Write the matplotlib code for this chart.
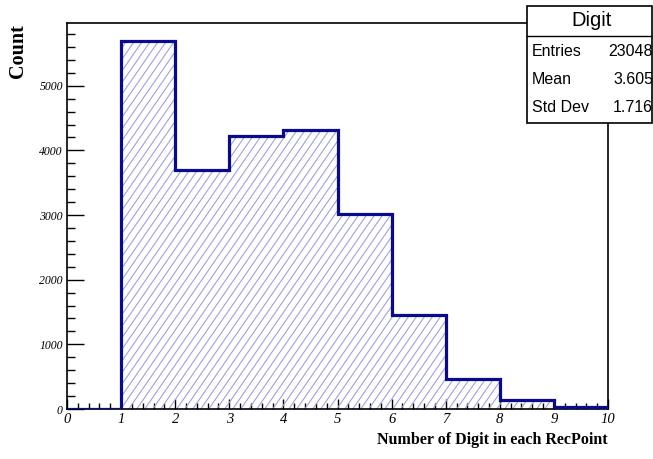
import matplotlib
matplotlib.use("Agg")
import matplotlib.pyplot as plt
import numpy as np
from matplotlib.ticker import MultipleLocator, AutoMinorLocator
from matplotlib.collections import LineCollection

# histogram of number of digits per RecPoint
edges = [0, 1, 2, 3, 4, 5, 6, 7, 8, 9, 10]
counts = [0, 5686, 3700, 4215, 4318, 3015, 1455, 468, 140, 32]
stats_labels = ["Entries", "Mean", "Std Dev"]
stats_values = ["23048", "3.605", "1.716"]

navy = '#0a0a8c'
hatch_col = '#a0a0e6'

fig = plt.figure(figsize=(6.53, 4.59), dpi=100)
ax_w, ax_h = 541, 386
ax = fig.add_axes([67/653, 50/459, ax_w/653, ax_h/459])
xmax, ymax = 10, 5970

fill = ax.stairs(counts, edges, fill=True, facecolor='none', edgecolor='none', linewidth=0)
ax.stairs(counts, edges, color=navy, linewidth=2.3, baseline=0, zorder=3)

# hatch lines, ~55 deg, 8 px apart, clipped to the filled histogram
sx, sy = ax_w / xmax, ax_h / ymax
slope = 1.45
segs = []
for c in np.arange(-ax_h / slope, ax_w, 8):
    segs.append([(c / sx, 0), ((c + ax_h / slope) / sx, ax_h / sy)])
hl = LineCollection(segs, colors=hatch_col, linewidths=0.8, zorder=2)
ax.add_collection(hl)
hl.set_clip_path(fill)

ax.set_xlim(0, xmax)
ax.set_ylim(0, ymax)

ax.xaxis.set_major_locator(MultipleLocator(1))
ax.xaxis.set_minor_locator(AutoMinorLocator(5))
ax.yaxis.set_major_locator(MultipleLocator(1000))
ax.yaxis.set_minor_locator(AutoMinorLocator(5))
ax.tick_params(axis='x', which='major', direction='in', length=7, width=1, pad=3)
ax.tick_params(axis='x', which='minor', direction='in', length=4, width=1)
ax.tick_params(axis='y', which='major', direction='in', length=12, width=1, pad=3)
ax.tick_params(axis='y', which='minor', direction='in', length=6, width=1)
for lab in ax.get_xticklabels() + ax.get_yticklabels():
    lab.set_fontfamily('Liberation Serif')
    lab.set_fontstyle('italic')
for lab in ax.get_xticklabels():
    lab.set_fontsize(10.5)
for lab in ax.get_yticklabels():
    lab.set_fontsize(8.5)

for sp in ax.spines.values():
    sp.set_linewidth(1.2)

fig.text(608/653, 1 - 440/459, "Number of Digit in each RecPoint", ha='right', va='center',
         fontfamily='Liberation Serif', fontweight='bold', fontsize=11.5)
fig.text(18/653, 1 - 24/459, "Count", ha='center', va='top', rotation=90,
         fontfamily='Liberation Serif', fontweight='bold', fontsize=14.5)

# stats box
bx0, bx1 = 527/653, 1.0
by_top, by_sep, by_bot = 1 - 6/459, 1 - 36/459, 1 - 123/459
box = plt.Rectangle((bx0, by_bot), bx1 - bx0 - 0.002, by_top - by_bot, transform=fig.transFigure,
                    facecolor='white', edgecolor='black', linewidth=1.2, zorder=5)
fig.add_artist(box)
fig.add_artist(plt.Line2D([bx0, bx1], [by_sep, by_sep], transform=fig.transFigure,
                          color='black', linewidth=1, zorder=6))
fig.text((bx0 + bx1) / 2 + 0.003, (by_top + by_sep) / 2, "Digit", ha='center', va='center',
         fontfamily='Liberation Sans', fontsize=14.5, zorder=7)
row_y = [52, 80, 108]
for name, val, yy in zip(stats_labels, stats_values, row_y):
    fig.text(532/653, 1 - yy/459, name, ha='left', va='center',
             fontfamily='Liberation Sans', fontsize=11.5, zorder=7)
    fig.text(653/653, 1 - yy/459, val, ha='right', va='center',
             fontfamily='Liberation Sans', fontsize=11.5, zorder=7)

fig.savefig("out.png", dpi=100)
